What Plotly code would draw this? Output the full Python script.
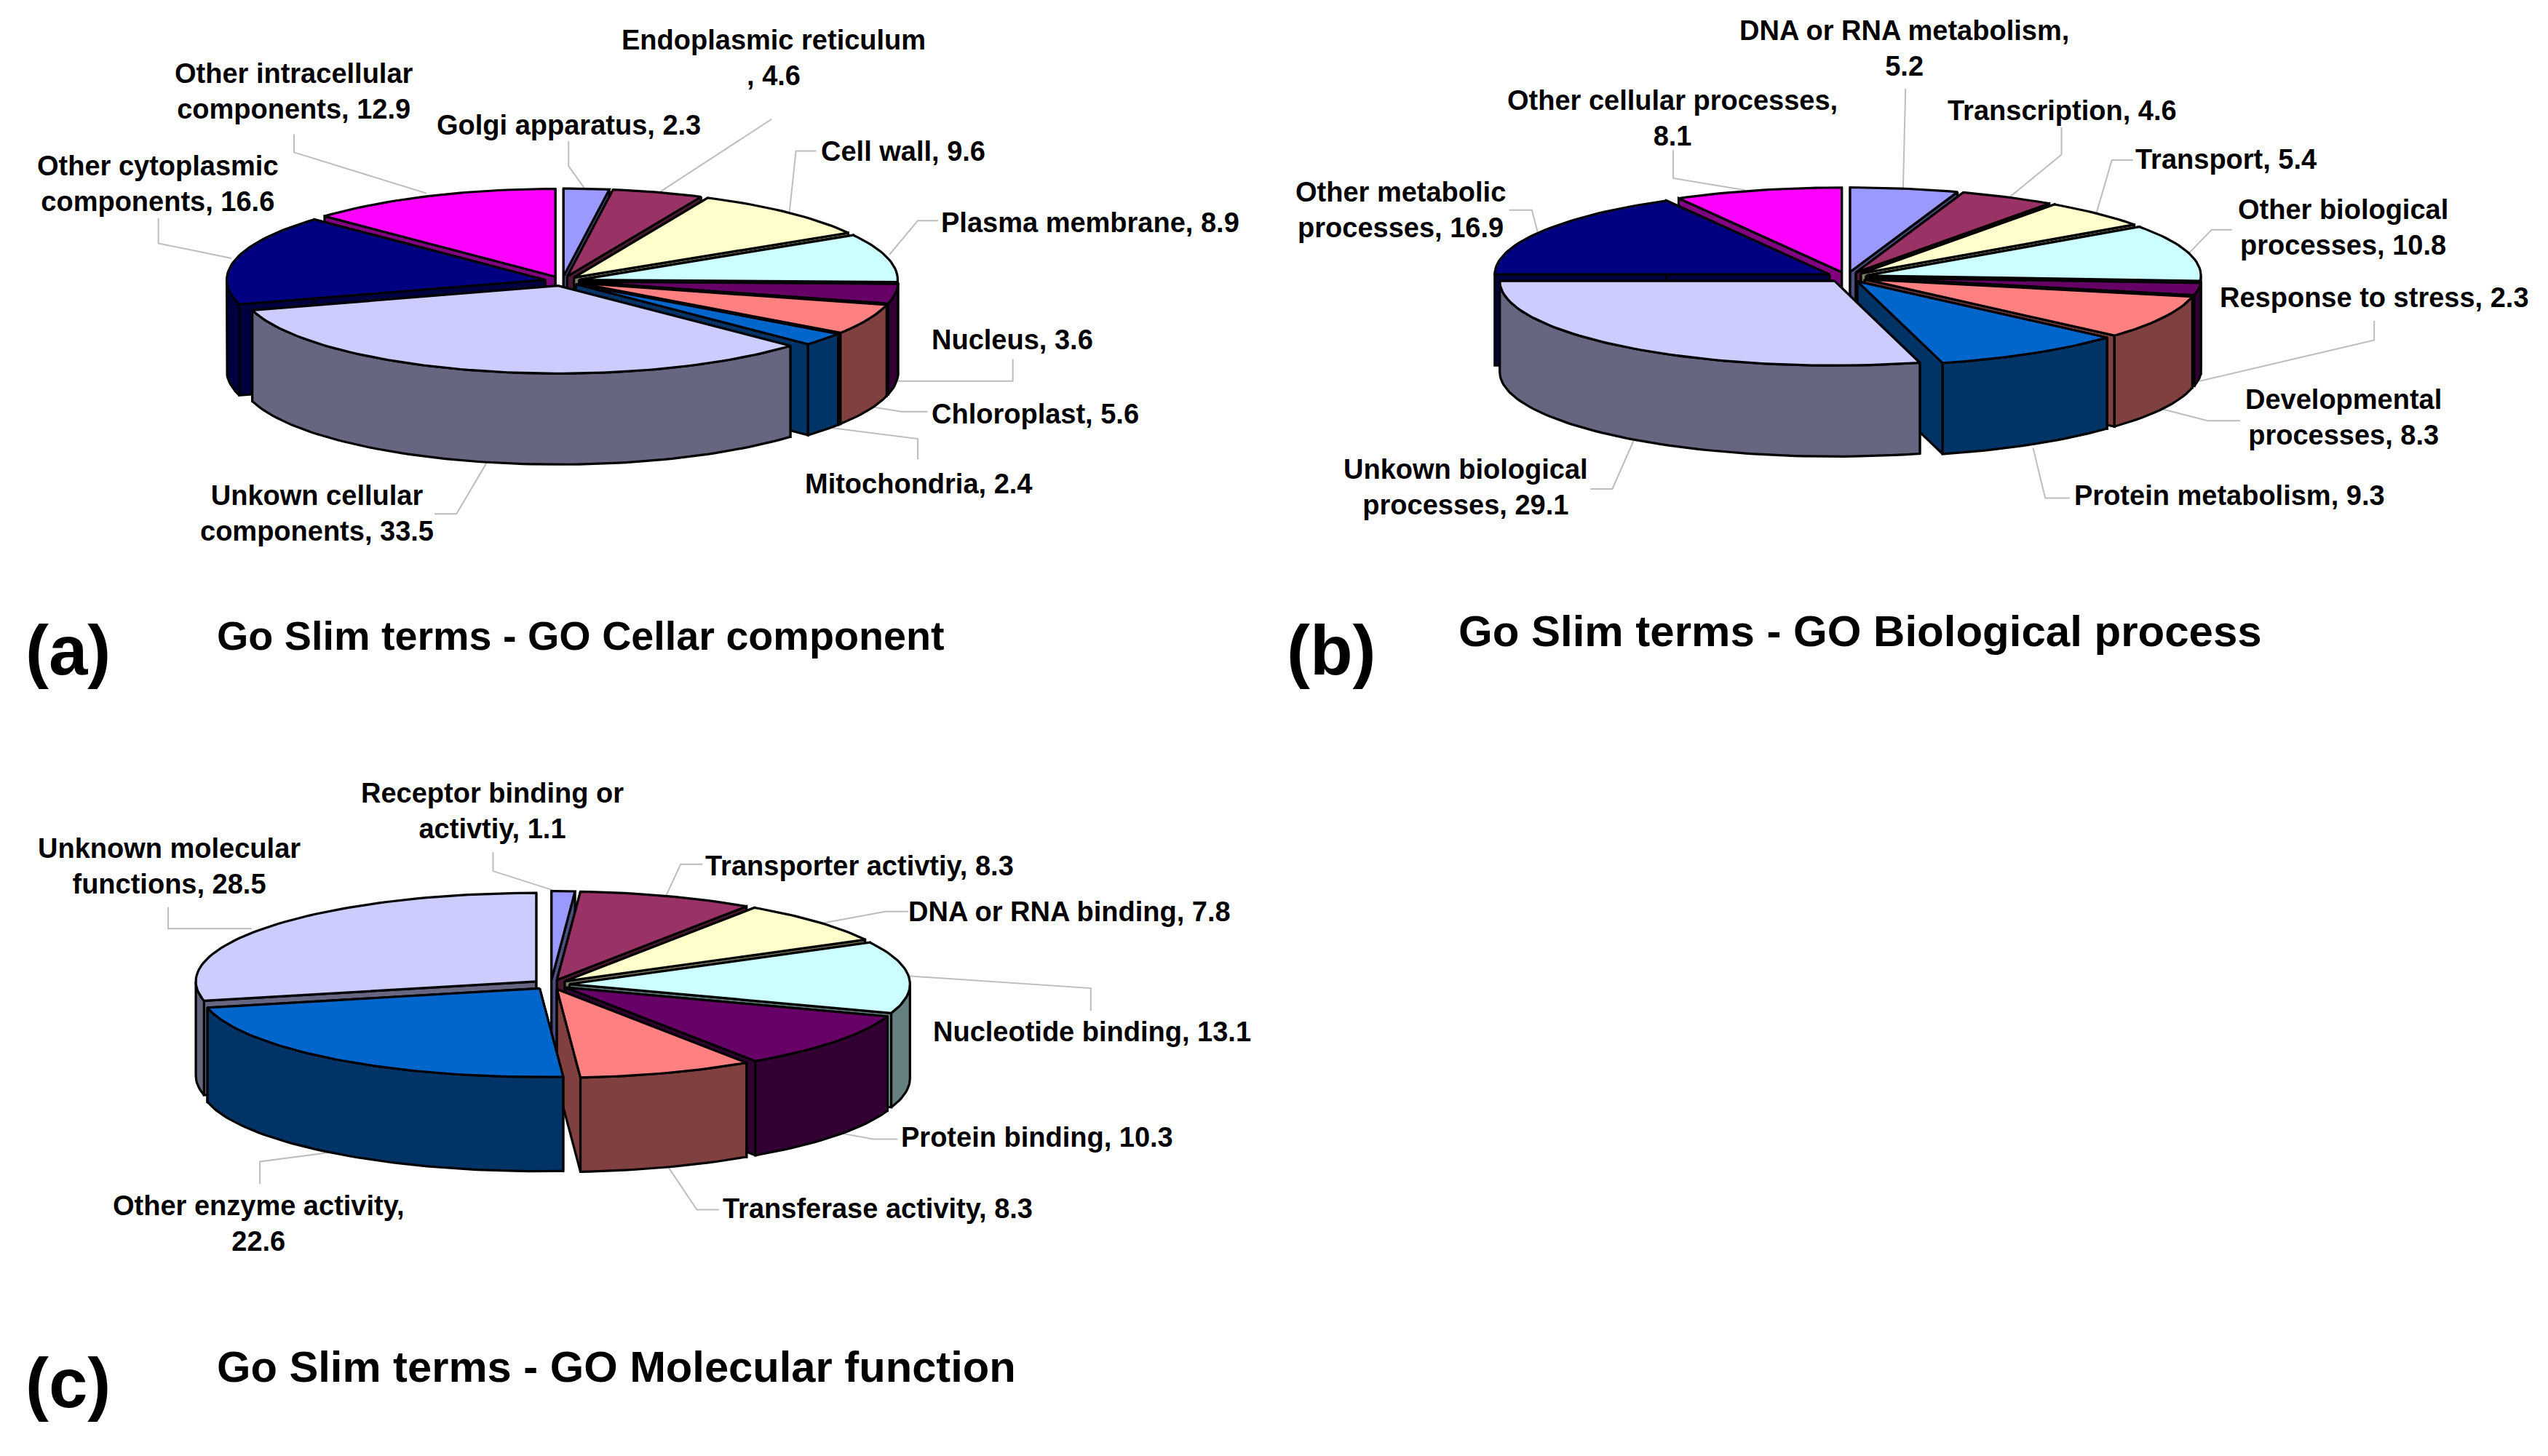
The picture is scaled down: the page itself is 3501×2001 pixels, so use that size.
import math
import plotly.graph_objects as go

# ---------- data ----------
names_a = ["Golgi apparatus, {}", "Endoplasmic reticulum<br>, {}", "Cell wall, {}", "Plasma membrane, {}",
           "Nucleus, {}", "Chloroplast, {}", "Mitochondria, {}", "Unkown cellular<br>components, {}",
           "Other cytoplasmic<br>components, {}", "Other intracellular<br>components, {}"]
values_a = [2.3, 4.6, 9.6, 8.9, 3.6, 5.6, 2.4, 33.5, 16.6, 12.9]

names_b = ["DNA or RNA metabolism,<br>{}", "Transcription, {}", "Transport, {}", "Other biological<br>processes, {}",
           "Response to stress, {}", "Developmental<br>processes, {}", "Protein metabolism, {}",
           "Unkown biological<br>processes, {}", "Other metabolic<br>processes, {}", "Other cellular processes,<br>{}"]
values_b = [5.2, 4.6, 5.4, 10.8, 2.3, 8.3, 9.3, 29.1, 16.9, 8.1]

names_c = ["Receptor binding or<br>activtiy, {}", "Transporter activtiy, {}", "DNA or RNA binding, {}",
           "Nucleotide binding, {}", "Protein binding, {}", "Transferase activity, {}",
           "Other enzyme activity,<br>{}", "Unknown molecular<br>functions, {}"]
values_c = [1.1, 8.3, 7.8, 13.1, 10.3, 8.3, 22.6, 28.5]

# ---------- style ----------
TOP = ["#9999FF", "#993366", "#FFFFCC", "#CCFFFF", "#660066", "#FF8080", "#0066CC", "#CCCCFF", "#000080", "#FF00FF"]
SIDE = ["#4D4D80", "#4D1A33", "#808066", "#668080", "#330033", "#804040", "#003366", "#666680", "#000040", "#800080"]
FONT = "Liberation Sans"
W, H = 3501, 2001
EDGE = 3.2
OV = W / 1568

# pie frame: centre x, centre y, radius x, radius y, depth, explosion
frame_a = (346 * OV, 173 * OV, 196 * OV, 54 * OV, 56 * OV, 0.055)
frame_b = (1136.5 * OV, 170.5 * OV, 206 * OV, 52 * OV, 56 * OV, 0.06)
frame_c = (339 * OV, 606 * OV, 209.5 * OV, 54.5 * OV, 58 * OV, 0.055)

# label centres, in 1568-wide overview units
label_pos_a = [(350, 77), (476, 35.5), (556, 93), (671, 137), (623, 209), (637, 255), (565, 298), (195, 316), (97, 113), (181, 56)]
label_pos_b = [(1172, 30), (1269, 68), (1370, 98), (1442, 140), (1461, 183), (1442, 257), (1372, 305), (902, 300), (862, 129), (1029, 73)]
label_pos_c = [(303, 499), (529, 533), (658, 561), (672, 635), (638, 700), (540, 744), (159, 753), (104, 533)]

# leader lines, in pixels
def la(pts):
    return [(x * 1.116, y * 0.625) for x, y in pts]
def lb(pts):
    return [(1750 + x * 1.116, y * 0.625) for x, y in pts]
def lc(pts):
    return [(x * 1.116, 1030 + y * 0.619) for x, y in pts]

leaders = [
    la([(950, 262), (810, 425)]), la([(362, 295), (362, 335), (525, 425)]), la([(700, 310), (700, 365), (720, 415)]),
    la([(1005, 332), (980, 332), (972, 465)]), la([(1155, 485), (1130, 485), (1095, 560)]),
    la([(195, 480), (195, 535), (285, 568)]), la([(1247, 790), (1247, 838), (1105, 838)]),
    la([(1142, 905), (1110, 905), (1075, 895)]), la([(1130, 1010), (1130, 965), (1020, 940)]),
    la([(535, 1130), (562, 1130), (600, 1015)]),
    lb([(778, 195), (775, 415)]), lb([(492, 330), (492, 392), (580, 418)]), lb([(970, 280), (970, 340), (905, 435)]),
    lb([(1058, 352), (1032, 352), (1012, 475)]), lb([(1180, 505), (1155, 505), (1125, 560)]),
    lb([(290, 462), (318, 462), (325, 510)]), lb([(1355, 705), (1355, 748), (1140, 838)]),
    lb([(1190, 925), (1150, 925), (1095, 900)]), lb([(980, 1095), (950, 1095), (935, 985)]),
    lb([(390, 1075), (417, 1075), (443, 970)]),
    lc([(607, 228), (607, 270), (680, 312)]), lc([(207, 350), (207, 398), (310, 398)]),
    lc([(865, 255), (838, 255), (820, 325)]), lc([(1118, 360), (1090, 360), (1005, 388)]),
    lc([(1343, 580), (1343, 530), (1118, 503)]), lc([(1105, 865), (1075, 865), (1035, 852)]),
    lc([(885, 1022), (858, 1022), (822, 925)]), lc([(320, 965), (320, 915), (405, 895)]),
]

fig = go.Figure()

def poly(xs, ys, fill, name):
    fig.add_trace(go.Scatter(x=xs, y=ys, mode="lines", fill="toself", fillcolor=fill, name=name,
                             line=dict(color="black", width=EDGE), hoverinfo="skip", showlegend=False))

for pts in leaders:
    fig.add_trace(go.Scatter(x=[p[0] for p in pts], y=[p[1] for p in pts], mode="lines",
                             line=dict(color="#BDBDBD", width=2), hoverinfo="skip", showlegend=False))

def pie3d(values, names, frame):
    cx, cy, rx, ry, depth, explode = frame
    total = sum(values)
    slices = []
    acc = 0.0
    for i, v in enumerate(values):
        a0 = acc / total * 2 * math.pi
        acc += v
        a1 = acc / total * 2 * math.pi
        slices.append((i, a0, a1))

    # back to front: both sides towards the bottom, the slice over the bottom last
    def order(s):
        if s[1] <= math.pi <= s[2]:
            return 99
        return -abs((s[1] + s[2]) / 2 - math.pi)
    slices.sort(key=order)

    for i, a0, a1 in slices:
        mid = (a0 + a1) / 2
        ox = cx + explode * rx * math.sin(mid)
        oy = cy - explode * ry * math.cos(mid)
        n = max(8, int((a1 - a0) * 40))
        ang = [a0 + (a1 - a0) * k / n for k in range(n + 1)]
        px = [ox + rx * math.sin(t) for t in ang]
        py = [oy - ry * math.cos(t) for t in ang]
        name = names[i].format(values[i]).replace("<br>", " ")
        # radial walls
        for t in (a0, a1):
            rimx, rimy = ox + rx * math.sin(t), oy - ry * math.cos(t)
            poly([ox, rimx, rimx, ox, ox], [oy, rimy, rimy + depth, oy + depth, oy], SIDE[i], name + " wall")
        # outer wall: the part of the arc facing the viewer
        b0, b1 = max(a0, math.pi / 2), min(a1, 3 * math.pi / 2)
        if b1 > b0:
            m = max(6, int((b1 - b0) * 40))
            arc = [b0 + (b1 - b0) * k / m for k in range(m + 1)]
            ux = [ox + rx * math.sin(t) for t in arc]
            uy = [oy - ry * math.cos(t) for t in arc]
            poly(ux + ux[::-1] + ux[:1], uy + [y + depth for y in uy[::-1]] + uy[:1], SIDE[i], name + " rim")
        poly([ox] + px + [ox], [oy] + py + [oy], TOP[i], name)

annotations = []
def label(x, y, text, size, anchor="center"):
    annotations.append(dict(x=x, y=y, xref="x", yref="y", text=f"<b>{text}</b>", showarrow=False, xanchor=anchor,
                            yanchor="middle", align="center", font=dict(family=FONT, size=size, color="black")))

for values, names, frame, pos in ((values_a, names_a, frame_a, label_pos_a),
                                  (values_b, names_b, frame_b, label_pos_b),
                                  (values_c, names_c, frame_c, label_pos_c)):
    pie3d(values, names, frame)
    for v, nm, (lx, ly) in zip(values, names, pos):
        label(lx * OV, ly * OV, nm.format(v), 38)

label(132.5 * OV, 391.5 * OV, "Go Slim terms - GO Cellar component", 55.7, "left")
label(896.5 * OV, 388.5 * OV, "Go Slim terms - GO Biological process", 60, "left")
label(132.5 * OV, 841.5 * OV, "Go Slim terms - GO Molecular function", 59.7, "left")
label(15 * OV, 400 * OV, "(a)", 96, "left")
label(791 * OV, 400 * OV, "(b)", 96, "left")
label(15 * OV, 851 * OV, "(c)", 96, "left")

fig.update_layout(width=W, height=H, autosize=False, margin=dict(l=0, r=0, t=0, b=0),
                  paper_bgcolor="white", plot_bgcolor="white", showlegend=False, annotations=annotations,
                  xaxis=dict(range=[0, W], visible=False), yaxis=dict(range=[H, 0], visible=False))

fig.write_html("out.html", config={"displayModeBar": False},
               post_script="document.body.style.margin='0';document.body.style.overflow='hidden';")
